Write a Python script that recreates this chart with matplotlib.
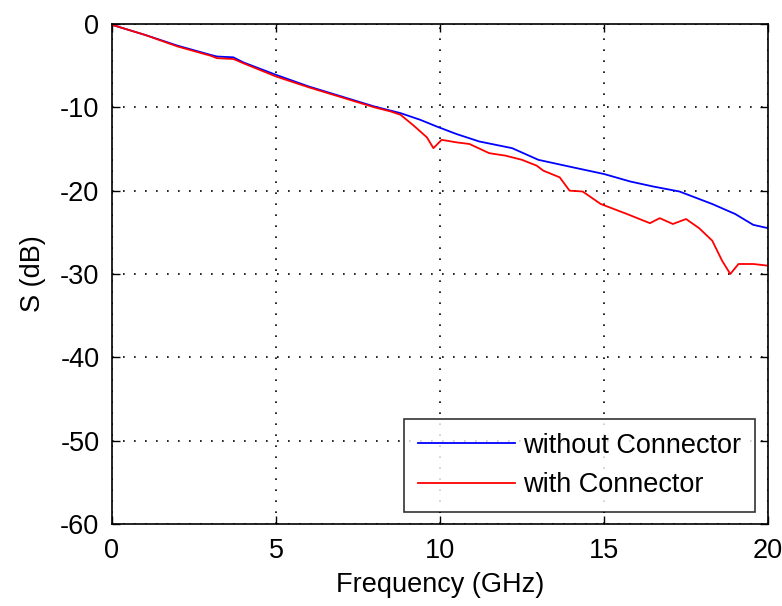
import numpy as np
import matplotlib
matplotlib.use('Agg')
import matplotlib.pyplot as plt

plt.rcParams['font.family'] = ['Liberation Sans', 'DejaVu Sans']
plt.rcParams['axes.unicode_minus'] = False

# without connector (blue)
f_blue = [0, 1, 2, 3, 3.2, 3.7, 4, 5, 6, 7, 8, 8.4, 8.8, 9.4, 9.9, 10.5, 11.2,
          12.2, 13, 14.05, 15, 15.8, 16.5, 17.3, 18.3, 19, 19.55, 20]
s_blue = [-0.1, -1.3, -2.6, -3.7, -3.9, -4.0, -4.6, -6.1, -7.5, -8.7, -9.9, -10.3,
          -10.7, -11.5, -12.3, -13.2, -14.1, -14.9, -16.3, -17.2, -18.0, -18.9,
          -19.5, -20.1, -21.6, -22.8, -24.1, -24.5]

# with connector (red)
f_red = [0, 1, 2, 3, 3.2, 3.7, 4, 5, 6, 7, 8, 8.5, 8.8, 9.2, 9.6, 9.8, 10.05,
         10.5, 10.9, 11.5, 12.0, 12.5, 12.95, 13.15, 13.65, 13.95, 14.35, 14.9,
         15.7, 16.4, 16.7, 17.1, 17.5, 17.9, 18.3, 18.6, 18.85, 19.1, 19.55, 20]
s_red = [-0.1, -1.3, -2.7, -3.8, -4.1, -4.2, -4.7, -6.3, -7.6, -8.8, -10.0, -10.5,
         -10.9, -12.2, -13.6, -14.9, -13.9, -14.2, -14.4, -15.5, -15.8, -16.3,
         -17.0, -17.6, -18.4, -20.0, -20.1, -21.6, -22.8, -23.9, -23.3, -24.0,
         -23.4, -24.5, -26.0, -28.4, -30.0, -28.8, -28.8, -29.0]

xticks = [0, 5, 10, 15, 20]
yticks = [0, -10, -20, -30, -40, -50, -60]

fig = plt.figure(figsize=(7.82, 6.06), dpi=100)
ax = fig.add_axes([0.1432, 0.1353, 0.8389, 0.8251])

ax.plot(f_blue, s_blue, color='#0000ff', lw=1.3, label='without Connector')
ax.plot(f_red, s_red, color='#ff0000', lw=1.3, label='with Connector')

ax.set_xlim(0, 20)
ax.set_ylim(-60, 0)
ax.set_xticks(xticks)
ax.set_yticks(yticks)
ax.tick_params(direction='in', top=True, right=True, length=6, width=1,
               labelsize=19.5)
ax.tick_params(axis='x', pad=10)
ax.tick_params(axis='y', pad=9)
ax.grid(True, color='black', linestyle=(0, (1, 5.6)), linewidth=1.2)
for s in ax.spines.values():
    s.set_linewidth(1.2)

ax.set_xlabel('Frequency (GHz)', fontsize=19.5, labelpad=6)
ax.set_ylabel('S (dB)', fontsize=19.5, labelpad=10)

leg = ax.legend(loc='lower right', bbox_to_anchor=(0.98, 0.024), borderaxespad=0,
                fontsize=19.5, frameon=True, fancybox=False, edgecolor='black',
                handlelength=3.6, handletextpad=0.3, labelspacing=0.5,
                borderpad=0.5)
leg.get_frame().set_linewidth(1.2)

fig.savefig('out.png', dpi=100)
